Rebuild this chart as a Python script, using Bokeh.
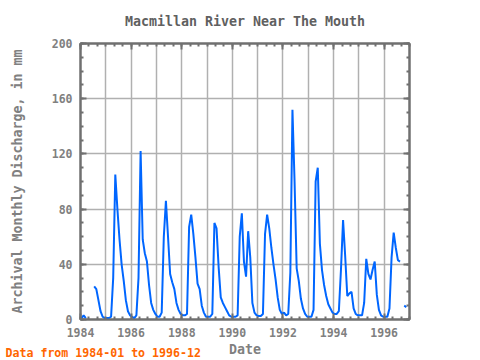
import pandas as pd
from bokeh.plotting import figure
from bokeh.models import Range1d, SingleIntervalTicker, LinearAxis, Title, ColumnDataSource
from bokeh.embed import file_html
from bokeh.resources import INLINE

nan = float("nan")

# Monthly discharge (mm), 1984-01 .. 1996-12
v1984 = [1, 3, 1, nan, nan, nan, 24, 22, 14, 6, 2, 1]
v1985 = [1, 1, 2, 30, 105, 80, 58, 40, 28, 14, 6, 3]
v1986 = [2, 1, 3, 30, 122, 58, 48, 42, 25, 12, 7, 4]
v1987 = [2, 2, 5, 60, 86, 60, 33, 27, 22, 12, 7, 4]
v1988 = [3, 3, 4, 67, 76, 62, 45, 26, 22, 10, 5, 2]
v1989 = [2, 2, 4, 70, 66, 38, 16, 12, 9, 6, 3, 2]
v1990 = [2, 2, 3, 60, 77, 42, 31, 64, 45, 12, 5, 3]
v1991 = [2.5, 2.5, 4, 62, 76, 66, 52, 40, 29, 16, 7, 4]
v1992 = [5, 3, 4, 34, 152, 100, 37, 28, 15, 8, 4, 2]
v1993 = [2, 2, 7, 100, 110, 55, 36, 25, 17, 11, 8, 5]
v1994 = [4, 4, 6, 36, 72, 46, 17, 19, 20, 8, 4, 3]
v1995 = [3, 3, 12, 44, 33, 29, 36, 42, 18, 7, 3, 2]
v1996 = [2, 2, 8, 45, 63, 52, 43, 42, nan, 10, 9, nan]

values = (v1984 + v1985 + v1986 + v1987 + v1988 + v1989 + v1990 + v1991
          + v1992 + v1993 + v1994 + v1995 + v1996)
dates = pd.date_range("1984-01-01", periods=len(values), freq="MS")
xyear = list(dates.year + (dates.month - 0.5) / 12.0)

y_label = "Archival Monthly Discharge, in mm"
title_text = "Macmillan River Near The Mouth"
x_label = "Date"
note_text = "Data from 1984-01 to 1996-12"

AX = "#707070"
TXT = "#808080"
FONT = "DejaVu Sans Mono"

p = figure(width=480, height=360, output_backend="svg", toolbar_location=None,
           x_range=Range1d(1984, 1997), y_range=Range1d(0, 200),
           min_border_left=80, min_border_right=71, min_border_top=43,
           min_border_bottom=41)
p.background_fill_color = "white"
p.border_fill_color = "white"
p.outline_line_color = AX
p.outline_line_width = 2

src = ColumnDataSource(dict(x=xyear, y=values))
p.line("x", "y", source=src, line_color="#0066ff", line_width=2)

def style_axis(ax, show_labels):
    ax.axis_line_color = AX
    ax.axis_line_width = 2
    ax.major_tick_line_color = AX
    ax.minor_tick_line_color = AX
    ax.major_tick_line_width = 2
    ax.minor_tick_line_width = 2
    ax.major_tick_in = 6
    ax.major_tick_out = 0
    ax.minor_tick_in = 3
    ax.minor_tick_out = 0
    ax.major_label_text_font = FONT
    ax.major_label_text_font_style = "bold"
    if show_labels:
        ax.major_label_standoff = 8
        ax.major_label_text_font_size = "11.5px"
        ax.major_label_text_color = TXT
    else:
        ax.major_label_standoff = 0
        ax.major_label_text_font_size = "0px"
        ax.major_label_text_color = None

p.xaxis.ticker = SingleIntervalTicker(interval=2, num_minor_ticks=6)
p.yaxis.ticker = SingleIntervalTicker(interval=40, num_minor_ticks=4)
style_axis(p.xaxis[0], True)
style_axis(p.yaxis[0], True)

top = LinearAxis(ticker=SingleIntervalTicker(interval=2, num_minor_ticks=6))
right = LinearAxis(ticker=SingleIntervalTicker(interval=40, num_minor_ticks=4))
style_axis(top, False)
style_axis(right, False)
p.add_layout(top, "above")
p.add_layout(right, "right")

p.yaxis[0].axis_label = y_label
p.yaxis[0].axis_label_text_font = FONT
p.yaxis[0].axis_label_text_font_style = "bold"
p.yaxis[0].axis_label_text_font_size = "13.3px"
p.yaxis[0].axis_label_text_color = TXT
p.yaxis[0].axis_label_standoff = 24

p.xgrid.ticker = SingleIntervalTicker(interval=1)
p.ygrid.ticker = SingleIntervalTicker(interval=40)
p.xgrid.grid_line_color = "#b0b0b0"
p.ygrid.grid_line_color = "#b0b0b0"
p.xgrid.grid_line_width = 1.5
p.ygrid.grid_line_width = 1.5

p.title.text = title_text
p.title.align = "center"
p.title.offset = 8.5
p.title.text_font = FONT
p.title.text_font_style = "bold"
p.title.text_font_size = "13.3px"
p.title.text_color = "#606060"
p.title.standoff = 26
p.title.vertical_align = "top"

date_title = Title(text=x_label, align="center", offset=29.5, text_font=FONT,
                   text_font_style="bold", text_font_size="13.3px",
                   text_color=TXT, standoff=0)
p.add_layout(date_title, "below")
note_title = Title(text=note_text, align="left", offset=-75, text_font=FONT,
                   text_font_style="bold", text_font_size="11.6px",
                   text_color="#ff6600", standoff=-22, vertical_align="top")
p.add_layout(note_title, "below")

open("out.html", "w").write(file_html(p, INLINE))
